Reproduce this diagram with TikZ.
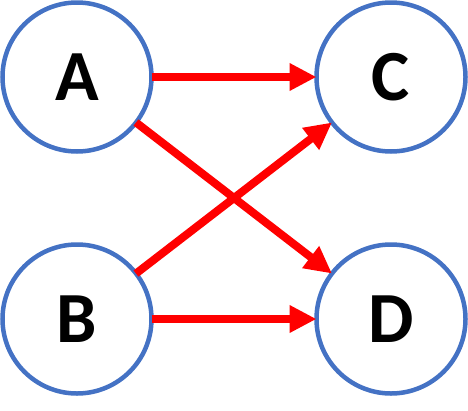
\documentclass[tikz,border=0pt]{standalone}
\usepackage{fontspec}
\setmainfont{Carlito}
\usetikzlibrary{arrows.meta}
\definecolor{nodeblue}{HTML}{4472C4}
\definecolor{arrred}{HTML}{FF0000}
\begin{document}
\begin{tikzpicture}[x=1pt,y=-1pt,
  vtx/.style={circle,draw=nodeblue,line width=4.5pt,minimum size=149pt,inner sep=0pt,outer sep=0pt,
    font=\fontsize{72}{72}\selectfont\bfseries},
  arr/.style={draw=arrred,line width=8pt,-{Triangle[length=27pt,width=26pt]}}]
\useasboundingbox (0,0) rectangle (468,410);
\node[vtx] (A) at (77,77) {A};
\node[vtx] (C) at (391,77) {C};
\node[vtx] (B) at (77,319) {B};
\node[vtx] (D) at (391,319) {D};
\draw[arr] (A) -- (C);
\draw[arr] (A) -- (D);
\draw[arr] (B) -- (C);
\draw[arr] (B) -- (D);
\end{tikzpicture}
\end{document}
